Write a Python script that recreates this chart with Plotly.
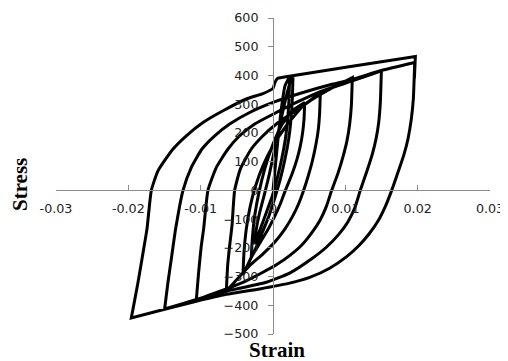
import plotly.graph_objects as go

# ---- data (strain, stress in MPa) ----
l0_strain = [0, 0.00055, 0.00115, 0.00166, 0.00230]
l0_stress = [0, 144, 283, 364, 396]

d1_strain = [0.00230, 0.00221, 0.00203, 0.00171, 0.00120, 0.00055, -0.00009, -0.00092, -0.00175, -0.00253]
d1_stress = [396, 318, 248, 179, 109, 39, -19, -77, -134, -187]

a1_strain = [-0.00253, -0.00230, -0.00184, -0.00124, -0.00055, 0.00023, 0.00101, 0.00175, 0.00230, 0.00276]
a1_stress = [-187, -134, -77, -19, 51, 144, 236, 318, 370, 393]

d1b_strain = [0.00276, 0.00267, 0.00249, 0.00217, 0.00166, 0.00101, 0.00028, -0.00055, -0.00147, -0.00230, -0.00300]
d1b_stress = [393, 318, 248, 179, 109, 39, -24, -88, -146, -198, -233]

a2_strain = [-0.00300, -0.00286, -0.00253, -0.00194, -0.00115, -0.00009, 0.00115, 0.00267, 0.00438]
a2_stress = [-233, -169, -88, -7, 74, 155, 225, 277, 306]

d2_strain = [0.00438, 0.00429, 0.00410, 0.00378, 0.00332, 0.00263, 0.00171, 0.00106, 0.00028, -0.00065, -0.00171, -0.00286, -0.00415]
d2_stress = [306, 248, 202, 155, 109, 57, 0, -44, -88, -134, -179, -227, -294]

a3_strain = [-0.00415, -0.00401, -0.00369, -0.00313, -0.00240, -0.00138, 0, 0.00184, 0.00415, 0.00654]
a3_stress = [-294, -216, -134, -53, 16, 86, 155, 225, 294, 339]

d3_strain = [0.00654, 0.00645, 0.00627, 0.00590, 0.00539, 0.00488, 0.00424, 0.00359, 0.00276, 0.00166, 0.00028, -0.00138, -0.00323, -0.00484, -0.00645]
d3_stress = [339, 271, 213, 155, 97, 51, 0, -44, -88, -134, -179, -221, -262, -306, -350]

a4_strain = [-0.00645, -0.00627, -0.00599, -0.00567, -0.00530, -0.00452, -0.00300, -0.00138, 0.00046, 0.00276, 0.00553, 0.00829, 0.01097]
a4_stress = [-350, -262, -192, -123, 0, 74, 144, 190, 231, 271, 318, 358, 393]

d4_strain = [0.01097, 0.01083, 0.01060, 0.01023, 0.00972, 0.00899, 0.00811, 0.00742, 0.00654, 0.00535, 0.00392, 0.00230, 0.00046, -0.00184, -0.00415, -0.00645, -0.00876, -0.01060]
d4_stress = [393, 294, 231, 173, 121, 60, 0, -53, -102, -148, -192, -227, -259, -291, -320, -343, -364, -381]

a5_strain = [-0.01060, -0.01028, -0.00991, -0.00959, -0.00899, -0.00783, -0.00622, -0.00461, -0.00253, 0, 0.00323, 0.00645, 0.01097, 0.01498]
a5_stress = [-381, -285, -192, -134, 0, 80, 144, 190, 231, 265, 306, 343, 381, 416]

d5_strain = [0.01498, 0.01484, 0.01461, 0.01424, 0.01373, 0.01300, 0.01207, 0.01134, 0.01037, 0.00903, 0.00737, 0.00530, 0.00230, -0.00092, -0.00461, -0.00645, -0.01060, -0.01498]
d5_stress = [416, 306, 236, 179, 126, 68, 0, -59, -109, -155, -198, -239, -288, -320, -341, -351, -380, -413]

a6_strain = [-0.01498, -0.01452, -0.01406, -0.01346, -0.01244, -0.01129, -0.00982, -0.00806, -0.00599, -0.00323, 0, 0.00369, 0.00829, 0.01106, 0.01498, 0.01959]
a6_stress = [-413, -320, -239, -134, 0, 80, 144, 190, 231, 271, 306, 337, 370, 387, 417, 445]

d6_strain = [0.01959, 0.01940, 0.01912, 0.01866, 0.01806, 0.01728, 0.01641, 0.01558, 0.01456, 0.01327, 0.01189, 0.01023, 0.00783, 0.00507, 0.00230, -0.00184, -0.00645, -0.01060, -0.01498, -0.01959]
d6_stress = [445, 318, 248, 179, 121, 63, 0, -53, -105, -152, -192, -230, -271, -303, -323, -343, -362, -386, -414, -444]

a7_strain = [-0.01959, -0.01866, -0.01788, -0.01742, -0.01682, -0.01590, -0.01382, -0.01198, -0.00968, -0.00691, -0.00369, -0.00138, 0, 0.00028, 0.00065, 0.00138, 0.01968]
a7_stress = [-444, -320, -204, -134, 0, 68, 144, 190, 236, 277, 318, 337, 355, 376, 390, 394, 466]

d7_strain = [0.01968, 0.01955]
d7_stress = [466, 390]

x_ticks = [-0.03, -0.02, -0.01, 0, 0.01, 0.02, 0.03]
x_tick_labels = ["-0.03", "-0.02", "-0.01", "0", "0.01", "0.02", "0.03"]
y_ticks = [-500, -400, -300, -200, -100, 0, 100, 200, 300, 400, 500, 600]

branches = [
    (l0_strain, l0_stress), (d1_strain, d1_stress), (a1_strain, a1_stress),
    (d1b_strain, d1b_stress), (a2_strain, a2_stress), (d2_strain, d2_stress),
    (a3_strain, a3_stress), (d3_strain, d3_stress), (a4_strain, a4_stress),
    (d4_strain, d4_stress), (a5_strain, a5_stress), (d5_strain, d5_stress),
    (a6_strain, a6_stress), (d6_strain, d6_stress), (a7_strain, a7_stress),
    (d7_strain, d7_stress),
]

xs, ys = [], []
for bx, by in branches:
    xs += list(bx)
    ys += list(by)

fig = go.Figure()
fig.add_trace(go.Scatter(
    x=xs, y=ys, mode="lines",
    line=dict(color="black", width=3, shape="spline", smoothing=0.5),
    showlegend=False, hoverinfo="skip",
))

axis_color = "#8c8c8c"
tick_font = dict(family="DejaVu Sans", size=12.7, color="#222222")

# page body has an 8px margin, so the figure is sized to fit the 508x361 window
fig.update_layout(
    width=500, height=353,
    margin=dict(l=48, r=18, t=10, b=27),
    paper_bgcolor="white", plot_bgcolor="white",
    xaxis=dict(
        range=[-0.03, 0.03], tickvals=x_ticks, ticktext=x_tick_labels,
        anchor="free", position=500 / 1100, automargin=False,
        showline=True, linecolor=axis_color, linewidth=1,
        ticks="inside", ticklen=5, tickcolor=axis_color,
        showgrid=False, zeroline=False, tickfont=tick_font,
        ticklabelstandoff=6,
    ),
    yaxis=dict(
        range=[-500, 600], tickvals=y_ticks,
        anchor="free", position=0.5, automargin=False,
        showline=True, linecolor=axis_color, linewidth=1,
        ticks="outside", ticklen=5, tickcolor=axis_color,
        showgrid=False, zeroline=False, tickfont=tick_font,
        ticklabelstandoff=7,
    ),
    annotations=[
        dict(text="<b>Strain</b>", xref="paper", yref="paper",
             x=(277 - 56) / 434, y=(334 - 350) / 316,
             xanchor="center", yanchor="middle", showarrow=False,
             font=dict(family="Liberation Serif", size=21, color="black")),
        dict(text="<b>Stress</b>", xref="paper", yref="paper",
             x=(20 - 56) / 434, y=(334 - 185) / 316, textangle=-90,
             xanchor="center", yanchor="middle", showarrow=False,
             font=dict(family="Liberation Serif", size=21, color="black")),
    ],
)

fig.write_html("out.html")
